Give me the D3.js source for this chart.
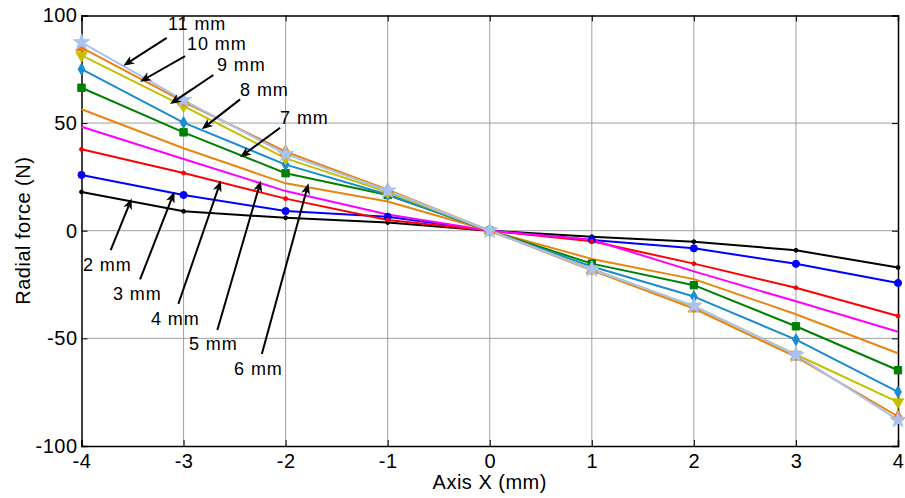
<!DOCTYPE html>
<html>
<head>
<meta charset="utf-8">
<script src="https://cdn.jsdelivr.net/npm/d3@7"></script>
<style>
  html, body { margin: 0; padding: 0; background: #fff; }
  svg text { font-family: "Liberation Sans", Arial, sans-serif; fill: #000; letter-spacing: 0.5px; }
  svg text.callout { letter-spacing: 0.9px; }
</style>
</head>
<body>
<svg id="chart" width="905" height="498"></svg>
<script>
// Axial positions (mm)
const axisX = [-4, -3, -2, -1, 0, 1, 2, 3, 4];

// Radial force (N) for each air-gap size
const gap2mm  = [18.0,  9.0,  6.0,  3.8, 0,  -2.8,  -5.1,  -9.1, -17.1];
const gap3mm  = [25.9, 16.6,  9.1,  6.5, 0,  -4.3,  -8.2, -15.4, -24.3];
const gap4mm  = [37.8, 26.8, 14.9,  5.0, 0,  -4.9, -15.3, -26.5, -39.6];
const gap5mm  = [48.3, 33.3, 18.4,  7.5, 0,  -4.2, -18.9, -32.8, -46.9];
const gap6mm  = [56.4, 38.3, 22.0, 13.6, 0, -13.1, -22.5, -38.8, -56.9];
const gap7mm  = [66.4, 45.7, 26.7, 16.6, 0, -15.3, -25.3, -44.4, -64.8];
const gap8mm  = [75.0, 50.2, 30.7, 16.8, 0, -16.6, -30.6, -50.6, -74.9];
const gap9mm  = [81.4, 57.9, 33.6, 18.0, 0, -17.8, -35.2, -57.5, -79.6];
const gap10mm = [85.0, 59.9, 36.7, 19.0, 0, -18.4, -36.2, -58.6, -86.3];
const gap11mm = [87.5, 60.7, 35.6, 18.6, 0, -18.0, -34.9, -57.7, -87.9];

const seriesNames = ["2 mm", "3 mm", "4 mm", "5 mm", "6 mm", "7 mm", "8 mm", "9 mm", "10 mm", "11 mm"];
const seriesValues = [gap2mm, gap3mm, gap4mm, gap5mm, gap6mm, gap7mm, gap8mm, gap9mm, gap10mm, gap11mm];
const seriesColors = ["#000000", "#0000ff", "#ff0000", "#ff00ff", "#e8850f", "#008000", "#1a8ccf", "#c4c000", "#e8820c", "#a9c2f2"];
const seriesMarkers = ["dot", "circle", "dot", "none", "none", "square", "diamond", "triDown", "triUp", "star"];

const xTicks = [-4, -3, -2, -1, 0, 1, 2, 3, 4];
const yTicks = [-100, -50, 0, 50, 100];

// Callout labels: text anchor (left, baseline) and arrow tail -> head, all in data units
const calloutText  = seriesNames;
const calloutTextX = [-3.985, -3.691, -3.319, -2.946, -2.505, -2.054, -2.446, -2.672, -2.966, -3.152];
const calloutTextY = [-18.7, -32.2, -43.8, -55.4, -67.0, 49.6, 62.6, 74.4, 84.0, 93.4];
const arrowTailX   = [-3.714, -3.426, -3.051, -2.669, -2.233, -2.054, -2.446, -2.708, -2.985, -3.165];
const arrowTailY   = [-9.0, -22.6, -34.0, -46.1, -57.3, 47.8, 61.0, 72.3, 81.1, 89.6];
const arrowHeadX   = [-3.508, -3.090, -2.635, -2.243, -1.776, -2.446, -2.822, -3.132, -3.426, -3.590];
const arrowHeadY   = [15.0, 18.1, 23.2, 23.2, 22.0, 34.1, 47.1, 58.8, 69.2, 76.6];

const svg = d3.select("#chart");
const plotL = 81.5, plotR = 898, plotT = 15.4, plotB = 446;

const x = d3.scaleLinear().domain([-4, 4]).range([plotL, plotR]);
const y = d3.scaleLinear().domain([-100, 100]).range([plotB, plotT]);

// grid
const grid = svg.append("g");
grid.selectAll("line.gx").data(xTicks.slice(1, -1)).join("line")
  .attr("x1", d => x(d)).attr("x2", d => x(d))
  .attr("y1", plotT).attr("y2", plotB)
  .attr("stroke", "#a0a0a0").attr("stroke-width", 1);
grid.selectAll("line.gy").data(yTicks.slice(1, -1)).join("line")
  .attr("y1", d => y(d)).attr("y2", d => y(d))
  .attr("x1", plotL).attr("x2", plotR)
  .attr("stroke", "#a0a0a0").attr("stroke-width", 1);

// axes (ticks pointing inward, labels outside); plain hyphen for negatives
const plainFmt = d => String(d);
const xAxis = d3.axisBottom(x).tickValues(xTicks).tickSize(-6).tickPadding(8).tickFormat(plainFmt);
const yAxis = d3.axisLeft(y).tickValues(yTicks).tickSize(-6).tickPadding(4).tickFormat(plainFmt);
const xTop = d3.axisTop(x).tickValues(xTicks).tickSize(-6).tickFormat("");
const yRight = d3.axisRight(y).tickValues(yTicks).tickSize(-6).tickFormat("");

function styleAxis(g) {
  g.select(".domain").attr("stroke", "#000").attr("stroke-width", 1.5);
  g.selectAll(".tick line").attr("stroke", "#000").attr("stroke-width", 1);
  g.selectAll(".tick text").attr("font-size", 20).attr("font-family", "Liberation Sans, Arial, sans-serif").attr("fill", "#000");
}
svg.append("g").attr("transform", `translate(0,${plotB})`).call(xAxis).call(styleAxis);
svg.append("g").attr("transform", `translate(${plotL},0)`).call(yAxis).call(styleAxis);
svg.append("g").attr("transform", `translate(0,${plotT})`).call(xTop).call(styleAxis);
svg.append("g").attr("transform", `translate(${plotR},0)`).call(yRight).call(styleAxis);

// series lines
const line = d3.line().x((d, i) => x(axisX[i])).y(d => y(d));
const plot = svg.append("g");
seriesValues.forEach((vals, s) => {
  plot.append("path").datum(vals)
    .attr("d", line)
    .attr("fill", "none")
    .attr("stroke", seriesColors[s])
    .attr("stroke-width", 2)
    .attr("stroke-linejoin", "round");
});

// markers
const symbolFor = {
  circle: d3.symbol().type(d3.symbolCircle).size(40),
  dot: d3.symbol().type(d3.symbolCircle).size(12),
  square: d3.symbol().type(d3.symbolSquare).size(55),
  diamond: d3.symbol().type(d3.symbolDiamond).size(40),
  triUp: d3.symbol().type(d3.symbolTriangle).size(55),
  triDown: d3.symbol().type(d3.symbolTriangle).size(55),
  star: d3.symbol().type(d3.symbolStar).size(80)
};
seriesValues.forEach((vals, s) => {
  const m = seriesMarkers[s];
  if (m === "none") return;
  plot.append("g").selectAll("path").data(vals).join("path")
    .attr("d", symbolFor[m])
    .attr("transform", (d, i) => `translate(${x(axisX[i])},${y(d)})${m === "triDown" ? " rotate(180)" : ""}`)
    .attr("fill", seriesColors[s])
    .attr("stroke", seriesColors[s])
    .attr("stroke-width", 1);
});

// callout arrows and labels
const notes = svg.append("g");
calloutText.forEach((t, i) => {
  const x1 = x(arrowTailX[i]), y1 = y(arrowTailY[i]);
  const x2 = x(arrowHeadX[i]), y2 = y(arrowHeadY[i]);
  const ang = Math.atan2(y2 - y1, x2 - x1);
  const L = 11, W = 4.5, back = 8;
  const ux = Math.cos(ang), uy = Math.sin(ang);
  const px = -uy, py = ux;
  const bx = x2 - ux * L, by = y2 - uy * L;
  const nx = x2 - ux * back, ny = y2 - uy * back;
  notes.append("line")
    .attr("x1", x1).attr("y1", y1).attr("x2", nx).attr("y2", ny)
    .attr("stroke", "#000").attr("stroke-width", 2);
  notes.append("path")
    .attr("d", `M${x2},${y2}L${bx + px * W},${by + py * W}L${nx},${ny}L${bx - px * W},${by - py * W}Z`)
    .attr("fill", "#000");
  notes.append("text")
    .attr("class", "callout")
    .attr("x", x(calloutTextX[i])).attr("y", y(calloutTextY[i]))
    .attr("font-size", 18)
    .text(t);
});

// axis titles
svg.append("text")
  .attr("x", (plotL + plotR) / 2).attr("y", 489)
  .attr("text-anchor", "middle").attr("font-size", 20)
  .text("Axis X (mm)");
svg.append("text")
  .attr("transform", `translate(30,${(plotT + plotB) / 2}) rotate(-90)`)
  .attr("text-anchor", "middle").attr("font-size", 20)
  .text("Radial force (N)");
</script>
</body>
</html>
